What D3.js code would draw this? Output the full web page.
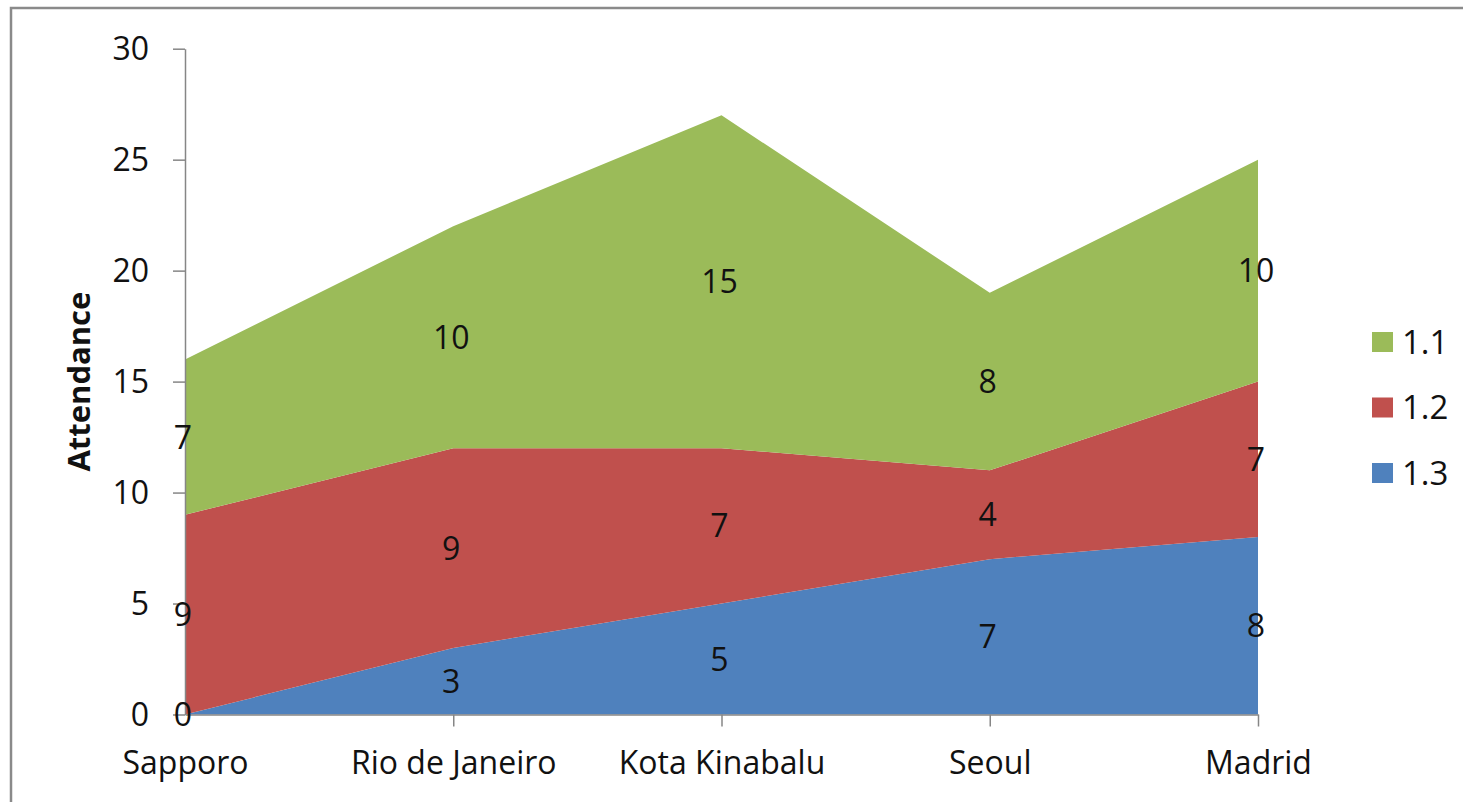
<!DOCTYPE html>
<html>
<head>
<meta charset="utf-8">
<script src="https://cdn.jsdelivr.net/npm/d3@7"></script>
<style>
	html, body { margin: 0; padding: 0; background: #fff; }
	#chart { width: 1463px; height: 802px; }
	text { font-family: "Open Sans", "Noto Sans", sans-serif; fill: #111; }
</style>
</head>
<body>
<div id="chart"></div>
<script>
const cities = ["Sapporo", "Rio de Janeiro", "Kota Kinabalu", "Seoul", "Madrid"];
const seriesNames = ["1.3", "1.2", "1.1"];
const v13 = [0, 3, 5, 7, 8];
const v12 = [9, 9, 7, 4, 7];
const v11 = [7, 10, 15, 8, 10];
const yTicks = [0, 5, 10, 15, 20, 25, 30];
const colors = {"1.1": "#9bbb59", "1.2": "#c0504d", "1.3": "#4f81bd"};

let
	width = 1463,
	height = 802,
	rows = cities.map((c, i) => ({city: c, "1.3": v13[i], "1.2": v12[i], "1.1": v11[i]})),
	stacked = d3.stack().keys(seriesNames)(rows),
	x = d3.scalePoint(cities, [185, 1258]),
	y = d3.scaleLinear([0, 30], [714.5, 48.7]),
	svg = d3.select("#chart")
		.append("svg")
		.attr("width", width)
		.attr("height", height)

// outer frame
svg.append("rect")
	.attr("x", 11).attr("y", 8)
	.attr("width", width + 10).attr("height", height + 10)
	.attr("fill", "none")
	.attr("stroke", "#8a8a8a")
	.attr("stroke-width", 2.5)

let area = d3.area()
	.x(d => x(d.data.city))
	.y0(d => y(d[0]))
	.y1(d => y(d[1]))

svg.append("g")
	.selectAll("path")
	.data(stacked)
	.join("path")
	.attr("fill", d => colors[d.key])
	.attr("d", area)

// axes
let yAxis = svg.append("g")
	.attr("transform", "translate(185,0)")
	.call(d3.axisLeft(y).tickValues(yTicks).tickSize(12).tickPadding(24).tickSizeOuter(0))
let xAxis = svg.append("g")
	.attr("transform", `translate(0,${y(0)})`)
	.call(d3.axisBottom(x).tickSize(12).tickPadding(25).tickSizeOuter(0))

for (const ax of [yAxis, xAxis]) {
	ax.select(".domain").attr("stroke", "#868686").attr("stroke-width", 1.5)
	ax.selectAll(".tick line").attr("stroke", "#868686").attr("stroke-width", 1.5)
	ax.selectAll(".tick text").attr("font-size", 32).attr("font-family", null).attr("fill", "#111")
}
xAxis.select(".tick line").remove()
yAxis.selectAll(".tick text").attr("dy", "0.35em")

// axis title
svg.append("text")
	.attr("transform", `translate(90,${y(15)}) rotate(-90)`)
	.attr("text-anchor", "middle")
	.attr("font-size", 31)
	.attr("font-weight", "bold")
	.text("Attendance")

// data labels
svg.append("g")
	.selectAll("g")
	.data(stacked)
	.join("g")
	.selectAll("text")
	.data(d => d)
	.join("text")
	.attr("x", d => x(d.data.city) - 2)
	.attr("y", d => y((d[0] + d[1]) / 2))
	.attr("dy", "0.36em")
	.attr("text-anchor", "middle")
	.attr("font-size", 32)
	.text(d => d[1] - d[0])

// legend
let legend = svg.append("g")
	.selectAll("g")
	.data(seriesNames.slice().reverse())
	.join("g")
	.attr("transform", (d, i) => `translate(1372,${342 + i * 65.5})`)
legend.append("rect")
	.attr("x", 0).attr("y", -10)
	.attr("width", 21).attr("height", 20)
	.attr("fill", d => colors[d])
legend.append("text")
	.attr("x", 30)
	.attr("dy", "0.36em")
	.attr("font-size", 33)
	.text(d => d)
</script>
</body>
</html>
